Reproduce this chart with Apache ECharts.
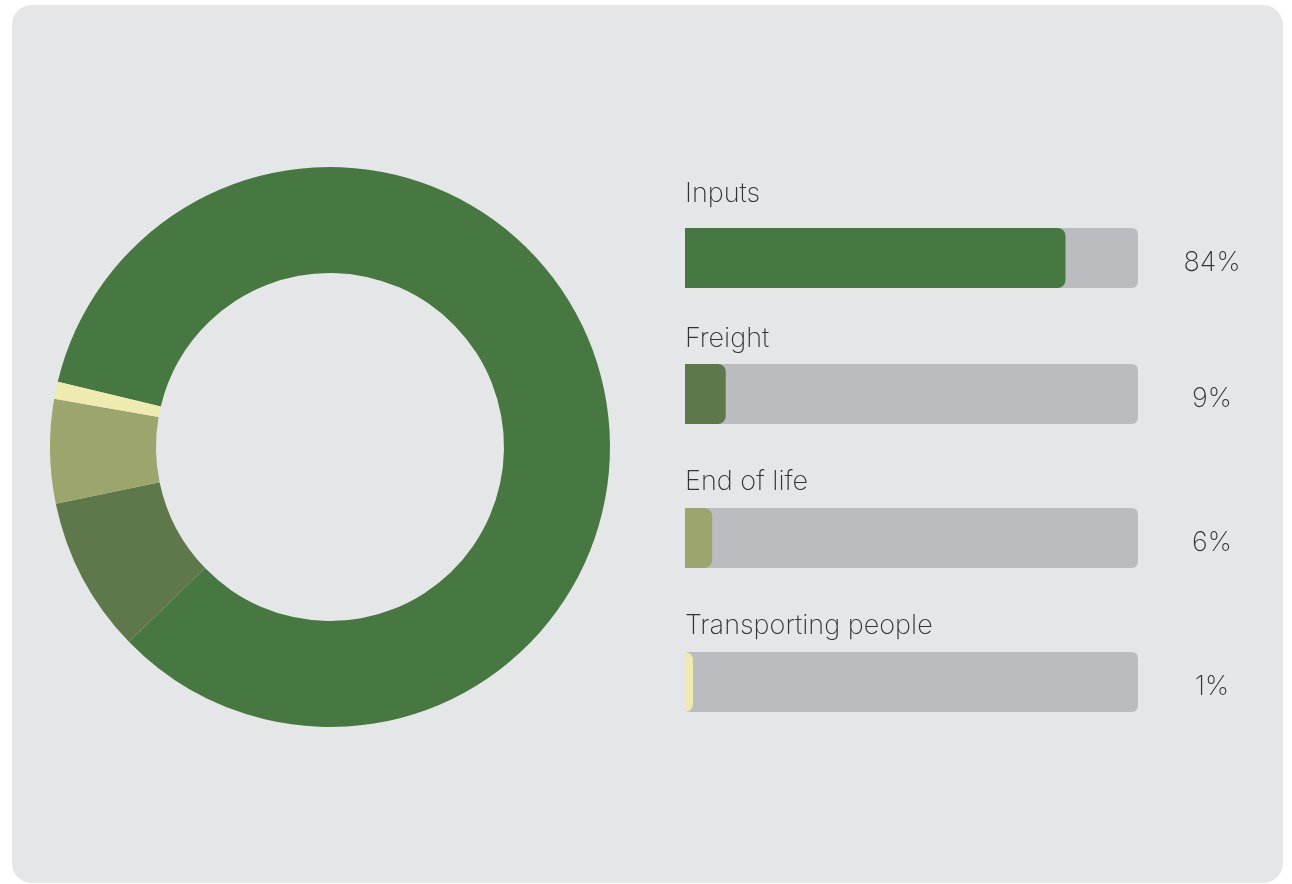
<!DOCTYPE html>
<html>
<head>
<meta charset="utf-8">
<script src="https://cdn.jsdelivr.net/npm/echarts@6/dist/echarts.min.js"></script>
<style>
html,body{margin:0;padding:0;background:#ffffff;}
#chart{width:1292px;height:884px;}
</style>
</head>
<body>
<div id="chart"></div>
<script>
const categories = ['Inputs', 'Freight', 'End of life', 'Transporting people'];
const shares = [84, 9, 6, 1];

const sliceColors = ['#477842', '#5e784b', '#9ca56e', '#eeeab0'];
const FONT = 'Inter';
const barTops = [228, 364, 508, 652];
const labelTops = [180, 325, 468, 612];

const chart = echarts.init(document.getElementById('chart'), null, {renderer: 'canvas'});

const grids = [], xAxes = [], yAxes = [], series = [];
categories.forEach((name, i) => {
  grids.push({left: 685, width: 453, top: barTops[i], height: 60});
  xAxes.push({type: 'value', gridIndex: i, min: 0, max: 100, show: false});
  yAxes.push({type: 'category', gridIndex: i, data: [name], show: false});
  series.push({
    type: 'bar', xAxisIndex: i, yAxisIndex: i,
    data: [shares[i]], barWidth: 60, barMinHeight: 8,
    showBackground: true,
    backgroundStyle: {color: '#bbbcbf', borderRadius: [0, 6, 6, 0]},
    itemStyle: {color: sliceColors[i], borderRadius: [0, 8, 8, 0]},
    silent: true, animation: false,
    label: {show: false}
  });
});

const graphicTexts = categories.map((name, i) => ({
  type: 'text', left: 685, top: labelTops[i],
  style: {text: name, font: '200 27px ' + FONT, fill: '#333333'}
}));

chart.setOption({
  backgroundColor: 'transparent',
  animation: false,
  graphic: [
    {type: 'rect', z: -10, shape: {x: 12, y: 5, width: 1271, height: 878, r: 20},
     style: {fill: '#e5e6e8'}, silent: true}
  ].concat(graphicTexts),
  grid: grids,
  xAxis: xAxes,
  yAxis: yAxes,
  series: series.concat([
    {
      type: 'pie',
      center: [330, 447],
      radius: [174, 280],
      startAngle: 166.5,
      clockwise: true,
      silent: true,
      label: {show: false},
      labelLine: {show: false},
      itemStyle: {borderWidth: 0},
      data: categories.map((name, i) => ({name: name, value: shares[i], itemStyle: {color: sliceColors[i]}}))
    }
  ].concat(categories.map((name, i) => ({
    type: 'bar', xAxisIndex: i, yAxisIndex: i, data: [100], barWidth: 60, barGap: '-100%',
    itemStyle: {color: 'transparent'}, silent: true, z: 5,
    label: {
      show: true, position: [527, 34.5], align: 'center', verticalAlign: 'middle',
      formatter: () => shares[i] + '%',
      fontFamily: FONT, fontWeight: 200, fontSize: 27, color: '#333333'
    }
  }))))
});
</script>
</body>
</html>
